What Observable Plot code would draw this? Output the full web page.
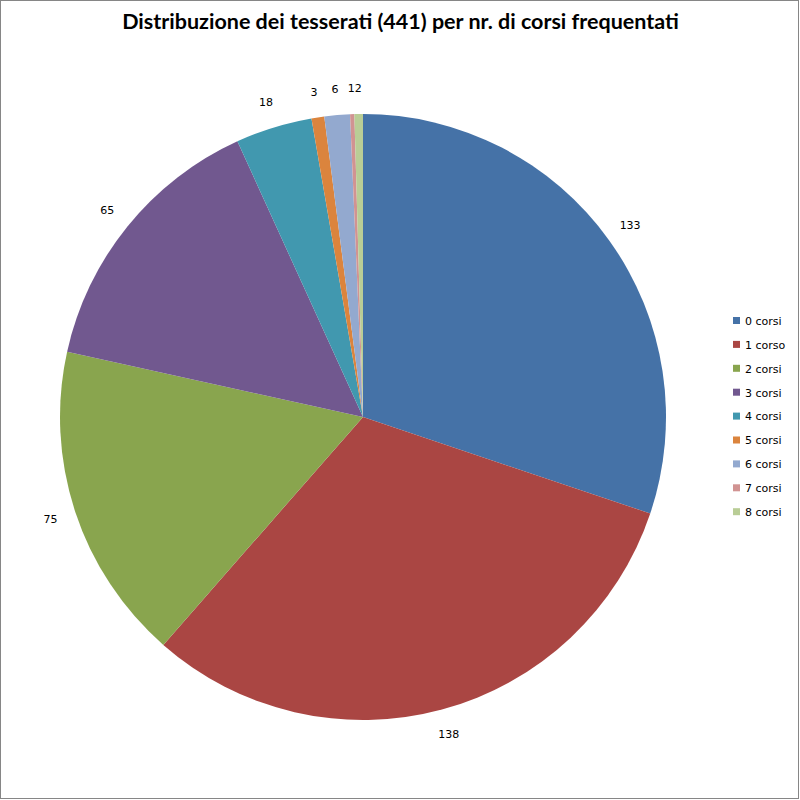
<!DOCTYPE html>
<html>
<head>
<meta charset="utf-8">
<script src="https://cdn.jsdelivr.net/npm/d3@7"></script>
<script src="https://cdn.jsdelivr.net/npm/@observablehq/plot@0.6"></script>
<style>
  body { margin: 0; background: #fff; }
</style>
</head>
<body>
<div id="chart"></div>
<script>
const title = "Distribuzione dei tesserati (441) per nr. di corsi frequentati";
const categories = ["0 corsi", "1 corso", "2 corsi", "3 corsi", "4 corsi", "5 corsi", "6 corsi", "7 corsi", "8 corsi"];
const values = [133, 138, 75, 65, 18, 3, 6, 1, 2];
const colors = ["#4572A7", "#AA4643", "#89A54E", "#71588F", "#4198AF", "#DB843D", "#93A9CF", "#D19392", "#B9CD96"];

const data = categories.map((c, i) => ({category: c, value: values[i]}));

const W = 800, H = 800;
const cx = 363, cy = 417, R = 303, labelR = 329;

function pieMark(index, scales, vals, dims) {
  const color = scales.color || d3.scaleOrdinal(categories, colors);
  const g = d3.create("svg:g");
  // border
  g.append("rect").attr("x", 0.5).attr("y", 0.5).attr("width", W - 2).attr("height", H - 2)
    .attr("fill", "none").attr("stroke", "#868686");
  const arcs = d3.pie().sort(null).value(d => d.value)(data);
  const arc = d3.arc().innerRadius(0).outerRadius(R);
  const pg = g.append("g").attr("transform", `translate(${cx},${cy})`);
  pg.selectAll("path").data(arcs).join("path")
    .attr("d", arc)
    .attr("fill", d => color(d.data.category));
  pg.selectAll("text").data(arcs).join("text")
    .attr("x", d => Math.sin((d.startAngle + d.endAngle) / 2) * labelR)
    .attr("y", d => -Math.cos((d.startAngle + d.endAngle) / 2) * labelR)
    .attr("text-anchor", "middle")
    .attr("dy", "0.35em")
    .attr("font-family", "DejaVu Sans, sans-serif")
    .attr("font-size", 11)
    .attr("fill", "#000")
    .text(d => d.data.value);
  // legend
  const lg = g.append("g").attr("transform", "translate(733,321)");
  const items = lg.selectAll("g").data(categories).join("g")
    .attr("transform", (d, i) => `translate(0,${i * 23.9})`);
  items.append("rect").attr("x", 0).attr("y", -4).attr("width", 7).attr("height", 7)
    .attr("fill", d => color(d));
  items.append("text").attr("x", 12).attr("y", 0).attr("dy", "0.35em")
    .attr("text-anchor", "start")
    .attr("font-family", "DejaVu Sans, sans-serif").attr("font-size", 11).attr("fill", "#000")
    .text(d => d);
  return g.node();
}

const plot = Plot.plot({
  width: W,
  height: H,
  margin: 0,
  style: {background: "#fff", overflow: "visible"},
  color: {domain: categories, range: colors},
  marks: [
    pieMark,
    Plot.text([title], {
      text: d => d,
      frameAnchor: "top",
      dy: 22,
      fontFamily: "Lato, sans-serif",
      fontWeight: "bold",
      fontSize: 21.5,
      fill: "#000",
      lineAnchor: "middle"
    })
  ]
});
document.getElementById("chart").append(plot);
</script>
</body>
</html>
